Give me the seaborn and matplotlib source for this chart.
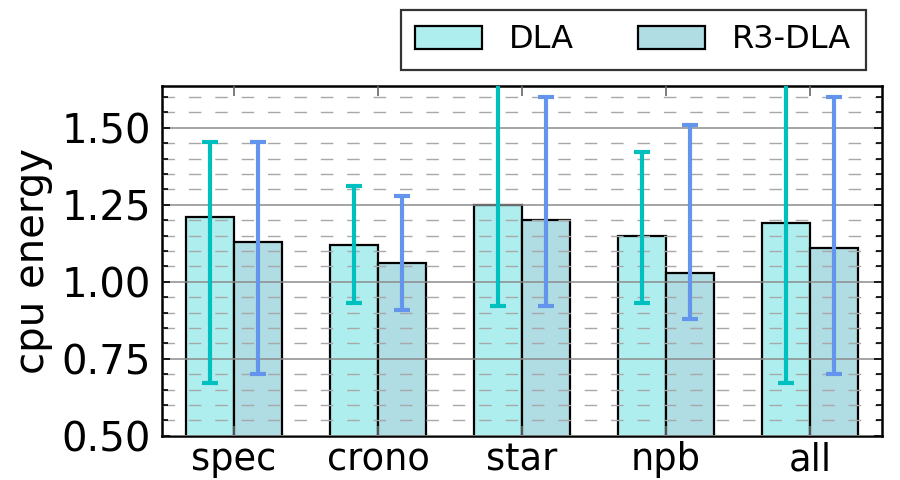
import numpy as np
import pandas as pd
import matplotlib.pyplot as plt
import seaborn as sns
from matplotlib.ticker import MultipleLocator

groups = ["spec", "crono", "star", "npb", "all"]
series = ["DLA", "R3-DLA"]
dla_mean = [1.21, 1.12, 1.25, 1.15, 1.19]
dla_low = [0.67, 0.93, 0.92, 0.93, 0.67]
dla_high = [1.455, 1.31, 1.65, 1.42, 1.65]
r3_mean = [1.13, 1.06, 1.20, 1.03, 1.11]
r3_low = [0.70, 0.91, 0.92, 0.88, 0.70]
r3_high = [1.455, 1.28, 1.60, 1.51, 1.60]

fill = {"DLA": "#AFEEEE", "R3-DLA": "#B0DCE3"}
err_col = {"DLA": "#00BFBF", "R3-DLA": "#6495ED"}

df = pd.DataFrame({
    "group": groups * 2,
    "series": ["DLA"] * 5 + ["R3-DLA"] * 5,
    "value": dla_mean + r3_mean,
})

sns.set_theme(style="white")
plt.rcParams["font.family"] = ["DejaVu Sans"]
plt.rcParams["text.color"] = "black"
plt.rcParams["axes.labelcolor"] = "black"

fig = plt.figure(figsize=(9, 4.8), dpi=100)
ax = fig.add_axes([0.18, 0.092, 0.80, 0.729])

sns.barplot(
    data=df, x="group", y="value", hue="series", order=groups, hue_order=series,
    palette=fill, width=0.667, edgecolor="black", linewidth=1.6, saturation=1,
    errorbar=None, ax=ax,
)

# asymmetric whiskers drawn at the bar centres seaborn placed
lows = {"DLA": dla_low, "R3-DLA": r3_low}
highs = {"DLA": dla_high, "R3-DLA": r3_high}
means = {"DLA": dla_mean, "R3-DLA": r3_mean}
for cont, s in zip(ax.containers, series):
    xs = [p.get_x() + p.get_width() / 2 for p in cont.patches]
    m = np.array(means[s])
    yerr = [m - np.array(lows[s]), np.array(highs[s]) - m]
    ax.errorbar(xs, m, yerr=yerr, fmt="none", ecolor=err_col[s],
                elinewidth=3, capsize=6, capthick=3, zorder=5)

ax.set_xlim(-0.5, 4.5)
ax.set_ylim(0.5, 1.636)
ax.yaxis.set_major_locator(MultipleLocator(0.25))
ax.yaxis.set_minor_locator(MultipleLocator(0.05))
ax.set_axisbelow(False)
ax.grid(which="major", axis="y", color="#8c8c8c", linestyle="-", linewidth=1.1, zorder=3)
ax.grid(which="minor", axis="y", color="#a8a8a8", linestyle=(0, (9, 10)), linewidth=1.0, zorder=3)

ax.tick_params(axis="both", which="both", direction="in", top=True, right=True,
               left=True, bottom=True, colors="black")
ax.tick_params(axis="both", which="major", length=6, width=1.2)
ax.tick_params(axis="y", which="major", labelsize=29, pad=8)
ax.tick_params(axis="x", which="major", labelsize=26.5, pad=4, length=7,
               color="#666666", labelcolor="black")
ax.tick_params(axis="y", which="minor", length=4, width=1.2)
for sp in ax.spines.values():
    sp.set_color("black")
    sp.set_linewidth(1.8)

ax.set_xlabel("")
ax.set_ylabel("cpu energy", fontsize=29, labelpad=6, color="black")

ax.legend_.remove()
handles = [plt.Rectangle((0, 0), 1, 1, facecolor=fill[s], edgecolor="black", linewidth=1.6)
           for s in series]
leg = fig.legend(handles, series, loc="upper right", bbox_to_anchor=(0.962, 0.979),
                 ncol=2, fontsize=23, frameon=True, fancybox=False, edgecolor="black",
                 handlelength=2.1, handleheight=0.75, handletextpad=0.85,
                 columnspacing=2.0, borderpad=0.45, borderaxespad=0, labelcolor="black")
leg.get_frame().set_linewidth(1.6)

fig.savefig("out.png", dpi=100)
